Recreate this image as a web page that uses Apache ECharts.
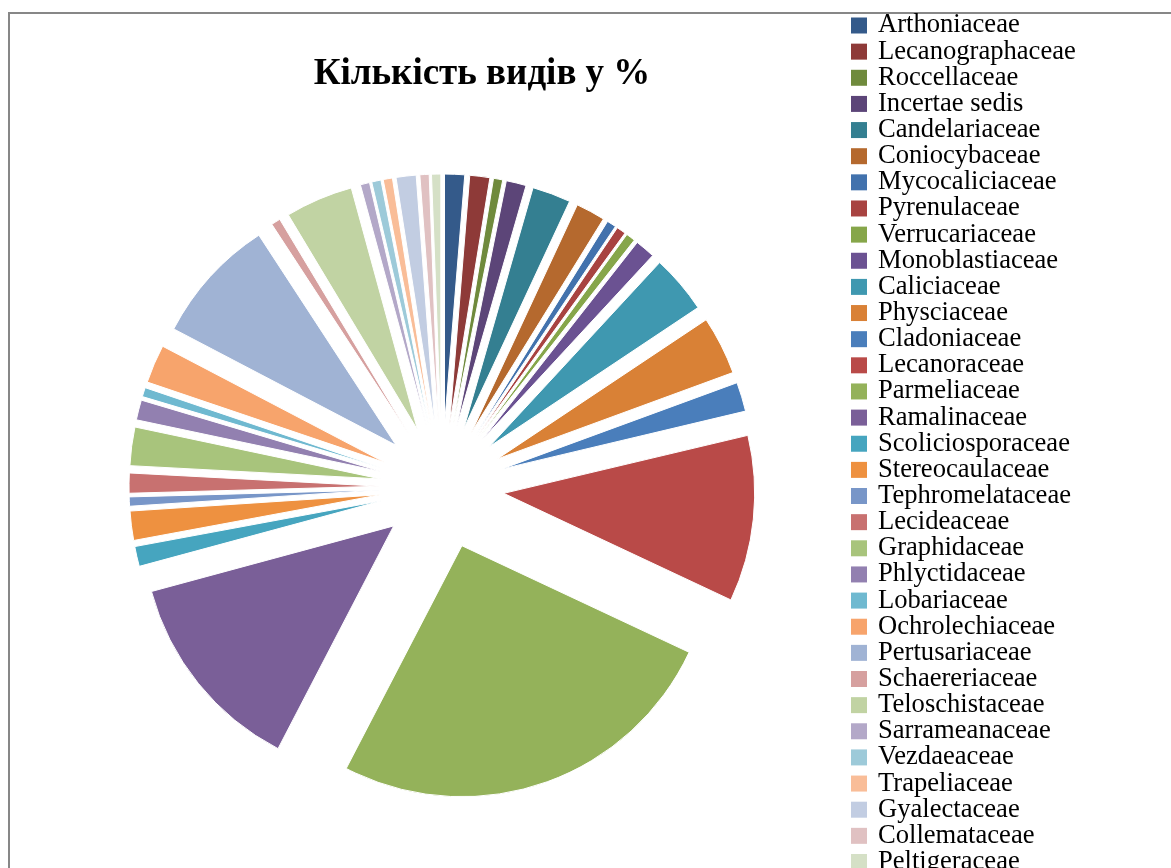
<!DOCTYPE html>
<html>
<head>
<meta charset="utf-8">
<script src="https://cdn.jsdelivr.net/npm/echarts@6/dist/echarts.min.js"></script>
<style>
  html, body { margin: 0; padding: 0; background: #fff; overflow: hidden; }
  #chart { width: 1171px; height: 868px; }
</style>
</head>
<body>
<div id="chart"></div>
<script>
// families, in legend order (slices go clockwise from 12 o'clock)
const families = [
  'Arthoniaceae', 'Lecanographaceae', 'Roccellaceae', 'Incertae sedis',
  'Candelariaceae', 'Coniocybaceae', 'Mycocaliciaceae', 'Pyrenulaceae',
  'Verrucariaceae', 'Monoblastiaceae', 'Caliciaceae', 'Physciaceae',
  'Cladoniaceae', 'Lecanoraceae', 'Parmeliaceae', 'Ramalinaceae',
  'Scoliciosporaceae', 'Stereocaulaceae', 'Tephromelataceae', 'Lecideaceae',
  'Graphidaceae', 'Phlyctidaceae', 'Lobariaceae', 'Ochrolechiaceae',
  'Pertusariaceae', 'Schaereriaceae', 'Teloschistaceae', 'Sarrameanaceae',
  'Vezdaeaceae', 'Trapeliaceae', 'Gyalectaceae', 'Collemataceae',
  'Peltigeraceae'
]

// share of species, %
const shares = [
  1.3, 1.3, 0.6, 1.3,
  2.5, 1.9, 0.6, 0.6,
  0.6, 1.3, 3.8, 3.8,
  1.9, 10.8, 25.9, 13.3,
  1.3, 1.9, 0.6, 1.3,
  2.5, 1.3, 0.6, 2.5,
  8.2, 0.6, 4.4, 0.6,
  0.6, 0.6, 1.3, 0.6,
  0.6
]

const colors = [
  '#345a8a', '#8e3a38', '#6f8a3c', '#5c4578', '#347f91', '#b5692e',
  '#4272ad', '#a84341', '#86a64a', '#6b5292', '#3f98b0', '#d98136',
  '#4a7ebb', '#b94a48', '#94b25a', '#7a5f98', '#46a5bf', '#ee9140',
  '#7896c8', '#c87170', '#a8c47c', '#9280b0', '#6fb9d0', '#f7a46c',
  '#a0b3d4', '#d6a09f', '#c1d3a3', '#b3a8c8', '#9dcad9', '#f9bd98',
  '#c2cde2', '#e0c1c2', '#d5e0c6'
]

const chart = echarts.init(document.getElementById('chart'))

chart.setOption({
  animation: false,
  color: colors,
  title: {
    text: 'Кількість видів у %',
    left: 477,
    top: 51,
    textAlign: 'center',
    textStyle: {
      fontFamily: 'Liberation Serif',
      fontSize: 37,
      fontWeight: 'bold',
      color: '#000'
    }
  },
  legend: {
    orient: 'vertical',
    left: 851,
    top: 12,
    padding: 0,
    height: 1000,
    icon: 'rect',
    itemWidth: 16,
    itemHeight: 16,
    itemGap: -0.86,
    selectedMode: false,
    itemStyle: { borderWidth: 0 },
    textStyle: {
      fontFamily: 'Liberation Serif',
      fontSize: 26.6,
      lineHeight: 26,
      color: '#000',
      padding: [0, 0, 0, 6]
    },
    data: families
  },
  graphic: [
    {
      type: 'rect',
      shape: { x: 9, y: 13, width: 1300, height: 1000 },
      style: { fill: 'none', stroke: '#878787', lineWidth: 2 },
      silent: true
    }
  ],
  series: [
    {
      type: 'pie',
      center: [442, 487],
      radius: 251,
      startAngle: 90,
      clockwise: true,
      selectedMode: 'multiple',
      selectedOffset: 62,
      label: { show: false },
      labelLine: { show: false },
      emphasis: { disabled: true },
      itemStyle: { borderColor: '#fff', borderWidth: 1 },
      data: families.map((name, i) => ({ name, value: shares[i], selected: true }))
    }
  ]
})
</script>
</body>
</html>
